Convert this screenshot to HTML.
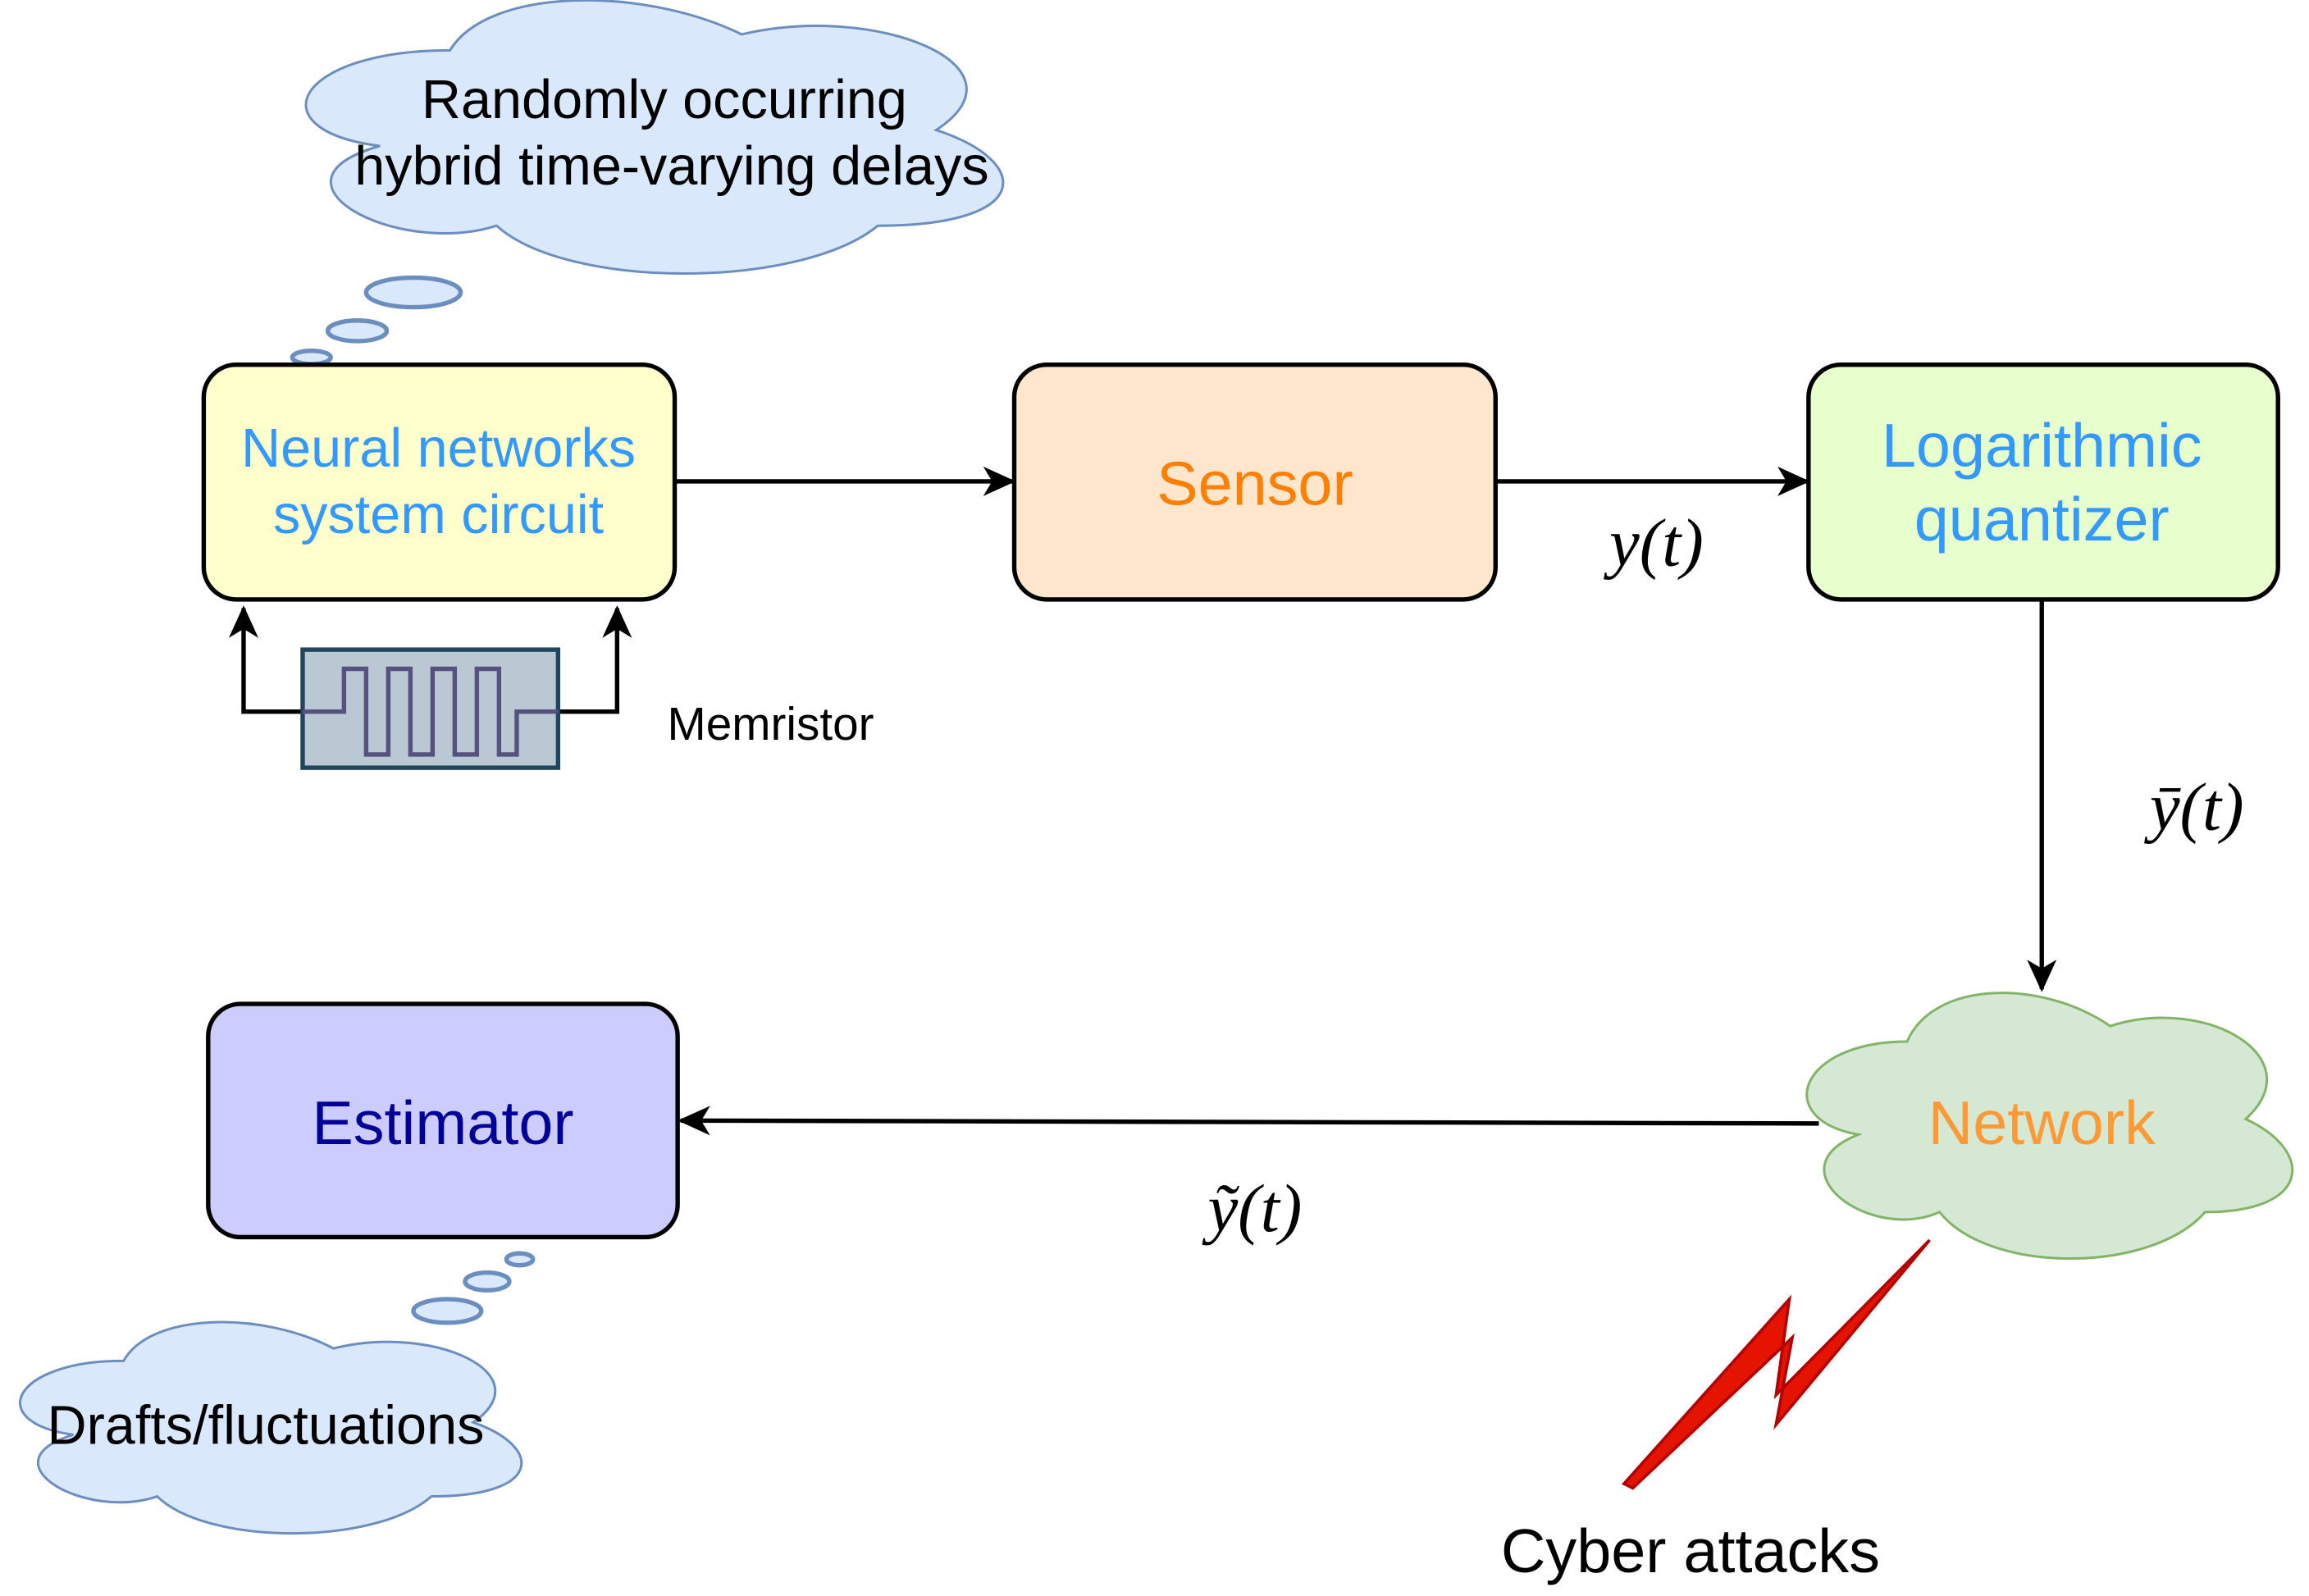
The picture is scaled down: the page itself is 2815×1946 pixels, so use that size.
<!DOCTYPE html>
<html><head><meta charset="utf-8"><style>
html,body{margin:0;padding:0;background:#fff;}
svg{display:block;}
text{font-family:"Liberation Sans",sans-serif;}
.m{font-family:"Liberation Serif",serif;font-style:italic;}
</style></head><body>
<svg width="2815" height="1946" viewBox="0 0 1564 1081" xmlns="http://www.w3.org/2000/svg">
<defs>
<marker id="ar2" markerWidth="22" markerHeight="22" refX="20" refY="11" orient="auto" markerUnits="userSpaceOnUse" viewBox="0 0 22 22">
<path d="M0,1 L22,11 L0,21 L6,11 Z" fill="#000"/></marker>
</defs>

<!-- top cloud -->
<path d="M0.25,0.25 C0.05,0.25 0,0.5 0.16,0.55 C0,0.66 0.18,0.9 0.31,0.8 C0.4,1 0.7,1 0.8,0.8 C1,0.8 1,0.6 0.875,0.5 C1,0.3 0.8,0.1 0.625,0.2 C0.5,0.05 0.3,0.05 0.25,0.25 Z" transform="translate(173,-20) scale(527,216)" fill="#dae8fc" stroke="#6c8ebf" stroke-width="3" vector-effect="non-scaling-stroke"/>
<text x="450" y="80" font-size="37" text-anchor="middle">Randomly occurring</text>
<text x="455" y="125" font-size="37" text-anchor="middle">hybrid time-varying delays</text>
<ellipse cx="280" cy="198" rx="32" ry="10" fill="#dae8fc" stroke="#6c8ebf" stroke-width="3"/>
<ellipse cx="242" cy="224" rx="20" ry="7" fill="#dae8fc" stroke="#6c8ebf" stroke-width="3"/>
<ellipse cx="211" cy="242" rx="13" ry="4.5" fill="#dae8fc" stroke="#6c8ebf" stroke-width="3"/>

<!-- boxes -->
<rect x="138" y="247" width="319" height="159" rx="22" fill="#ffffcc" stroke="#000" stroke-width="3"/>
<text x="297" y="316" font-size="37" fill="#3399ff" text-anchor="middle">Neural networks</text>
<text x="297" y="361" font-size="37" fill="#3399ff" text-anchor="middle">system circuit</text>

<rect x="687" y="247" width="326" height="159" rx="22" fill="#ffe6cc" stroke="#000" stroke-width="3"/>
<text x="850" y="342" font-size="42" fill="#ff8000" text-anchor="middle">Sensor</text>

<rect x="1225" y="247" width="318" height="159" rx="22" fill="#e6ffcc" stroke="#000" stroke-width="3"/>
<text x="1383" y="316" font-size="42" fill="#3399ff" text-anchor="middle">Logarithmic</text>
<text x="1383" y="366" font-size="42" fill="#3399ff" text-anchor="middle">quantizer</text>

<rect x="141" y="680" width="318" height="158" rx="22" fill="#ccccff" stroke="#000" stroke-width="3"/>
<text x="300" y="775" font-size="42" fill="#000099" text-anchor="middle">Estimator</text>

<!-- arrows -->
<line x1="457" y1="326" x2="686" y2="326" stroke="#000" stroke-width="3" marker-end="url(#ar2)"/>
<line x1="1013" y1="326" x2="1224" y2="326" stroke="#000" stroke-width="3" marker-end="url(#ar2)"/>
<text x="1122" y="383" font-size="46" class="m" text-anchor="middle">y(t)</text>
<line x1="1383" y1="406" x2="1383" y2="670" stroke="#000" stroke-width="3" marker-end="url(#ar2)"/>
<text x="1488" y="562" font-size="46" class="m" text-anchor="middle">ȳ(t)</text>

<!-- network cloud -->
<path d="M0.25,0.25 C0.05,0.25 0,0.5 0.16,0.55 C0,0.66 0.18,0.9 0.31,0.8 C0.4,1 0.7,1 0.8,0.8 C1,0.8 1,0.6 0.875,0.5 C1,0.3 0.8,0.1 0.625,0.2 C0.5,0.05 0.3,0.05 0.25,0.25 Z" transform="translate(1200,653) scale(367,210)" fill="#d5e8d4" stroke="#82b366" stroke-width="3" vector-effect="non-scaling-stroke"/>
<text x="1383" y="775" font-size="42" fill="#ff9933" text-anchor="middle">Network</text>
<line x1="1232" y1="761" x2="461" y2="759" stroke="#000" stroke-width="3" marker-end="url(#ar2)"/>
<text x="850" y="834" font-size="46" class="m" text-anchor="middle">ỹ(t)</text>

<!-- bottom cloud -->
<path d="M0.25,0.25 C0.05,0.25 0,0.5 0.16,0.55 C0,0.66 0.18,0.9 0.31,0.8 C0.4,1 0.7,1 0.8,0.8 C1,0.8 1,0.6 0.875,0.5 C1,0.3 0.8,0.1 0.625,0.2 C0.5,0.05 0.3,0.05 0.25,0.25 Z" transform="translate(-11,880) scale(379,167)" fill="#dae8fc" stroke="#6c8ebf" stroke-width="3" vector-effect="non-scaling-stroke"/>
<text x="180" y="978" font-size="37" text-anchor="middle">Drafts/fluctuations</text>
<ellipse cx="352" cy="853" rx="9" ry="4" fill="#dae8fc" stroke="#6c8ebf" stroke-width="3"/>
<ellipse cx="330" cy="868" rx="15" ry="6" fill="#dae8fc" stroke="#6c8ebf" stroke-width="3"/>
<ellipse cx="303" cy="888" rx="23" ry="8" fill="#dae8fc" stroke="#6c8ebf" stroke-width="3"/>

<!-- memristor -->
<polyline points="205,482 165,482 165,412" fill="none" stroke="#000" stroke-width="3" marker-end="url(#ar2)"/>
<polyline points="378,482 418,482 418,412" fill="none" stroke="#000" stroke-width="3" marker-end="url(#ar2)"/>
<rect x="205" y="440" width="173" height="80" fill="#bac8d3" stroke="#23445d" stroke-width="3"/>
<polyline points="205,482 233,482 233,453 248,453 248,511 263,511 263,453 278,453 278,511 293,511 293,453 308,453 308,511 323,511 323,453 338,453 338,511 350,511 350,482 378,482" fill="none" stroke="#56517e" stroke-width="3"/>
<text x="452" y="501" font-size="31.5">Memristor</text>

<!-- lightning -->
<polygon points="1100,1005 1212,880 1203,945 1307,840 1203,965 1214,906 1106,1008" fill="#e51400" stroke="#b20000" stroke-width="2"/>
<text x="1145" y="1065" font-size="42" text-anchor="middle">Cyber attacks</text>
</svg>
</body></html>
